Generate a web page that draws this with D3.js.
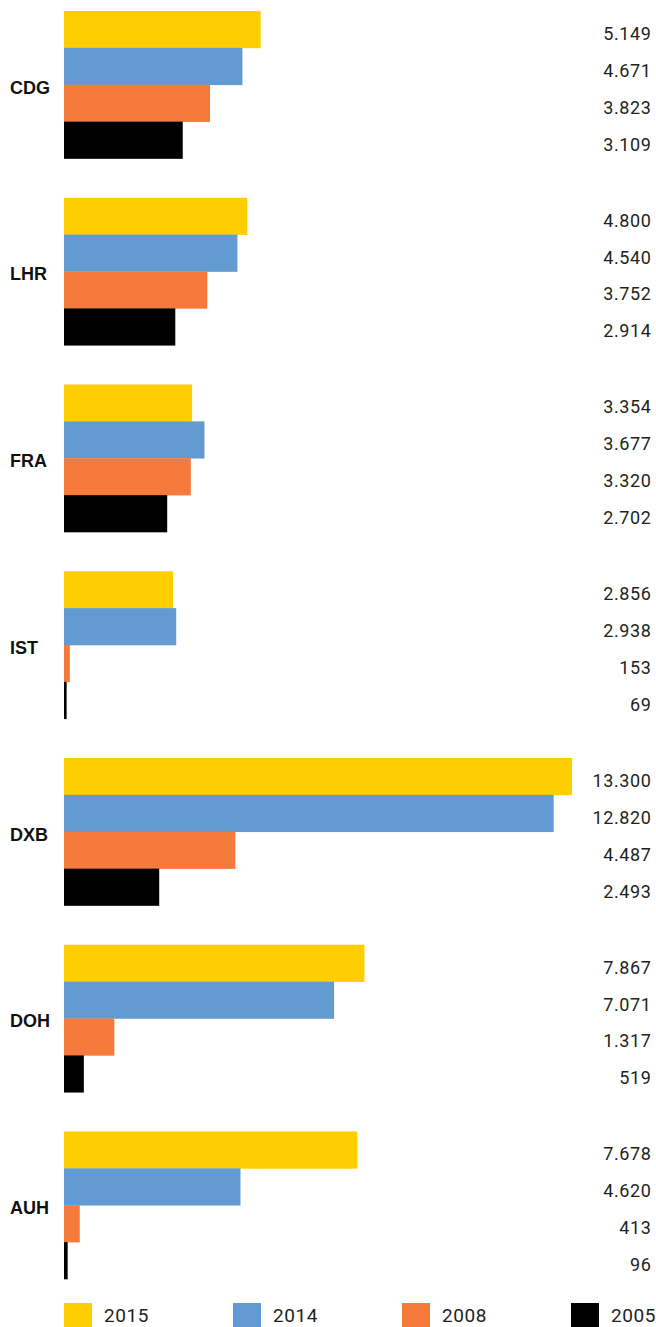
<!DOCTYPE html>
<html>
<head>
<meta charset="utf-8">
<script src="https://cdn.jsdelivr.net/npm/d3@7"></script>
<style>
  html, body { margin: 0; padding: 0; background: #fff; }
  svg { display: block; }
</style>
</head>
<body>
<svg id="chart" width="656" height="1327"></svg>
<script>
const airports = ["CDG", "LHR", "FRA", "IST", "DXB", "DOH", "AUH"];
const years = ["2015", "2014", "2008", "2005"];
const v2015 = [5149, 4800, 3354, 2856, 13300, 7867, 7678];
const v2014 = [4671, 4540, 3677, 2938, 12820, 7071, 4620];
const v2008 = [3823, 3752, 3320, 153, 4487, 1317, 413];
const v2005 = [3109, 2914, 2702, 69, 2493, 519, 96];
const colors = ["#FFCE00", "#619BD1", "#F57B3D", "#000000"];

const seriesValues = [v2015, v2014, v2008, v2005];
const rows = airports.map((a, i) => ({
  airport: a,
  values: years.map((y, j) => ({ year: y, value: seriesValues[j][i] }))
}));

const svg = d3.select("#chart");
const fmt = d3.formatLocale({ decimal: ",", thousands: ".", grouping: [3], currency: ["", ""] }).format(",d");

const x = d3.scaleLinear().domain([0, 13300]).range([64, 572]);
const y0 = d3.scaleBand().domain(airports).range([11, 1279]).paddingInner(0.21).paddingOuter(0);
const y1 = d3.scaleBand().domain(years).range([0, y0.bandwidth()]).padding(0);
const color = d3.scaleOrdinal().domain(years).range(colors);

const g = svg.selectAll("g.group").data(rows).join("g")
  .attr("class", "group")
  .attr("transform", d => `translate(0,${y0(d.airport)})`);

g.selectAll("rect").data(d => d.values).join("rect")
  .attr("x", x(0))
  .attr("y", d => y1(d.year))
  .attr("width", d => x(d.value) - x(0))
  .attr("height", y1.bandwidth() + 0.3)
  .attr("fill", d => color(d.year));

g.selectAll("text.val").data(d => d.values).join("text")
  .attr("class", "val")
  .attr("x", 651.5)
  .attr("y", d => y1(d.year) + y1.bandwidth() / 2 + 4)
  .attr("text-anchor", "end")
  .attr("dominant-baseline", "central")
  .attr("font-family", "Roboto, 'Noto Sans', sans-serif")
  .attr("font-size", 18)
  .attr("letter-spacing", 0.6)
  .attr("fill", "#231F20")
  .text(d => fmt(d.value));

g.append("text")
  .attr("x", 10)
  .attr("y", y1("2008") + 3)
  .attr("dominant-baseline", "central")
  .attr("font-family", "'Liberation Sans', Arial, sans-serif")
  .attr("font-weight", "bold")
  .attr("font-size", 18)
  .attr("fill", "#111")
  .text(d => d.airport);

const legendX = d3.scalePoint().domain(years).range([64, 571]);
const lg = svg.selectAll("g.legend").data(years).join("g")
  .attr("class", "legend")
  .attr("transform", d => `translate(${legendX(d)},1303)`);
lg.append("rect").attr("width", 28).attr("height", 24).attr("fill", d => color(d));
lg.append("text")
  .attr("x", 40)
  .attr("y", 12)
  .attr("dominant-baseline", "central")
  .attr("font-family", "Roboto, 'Noto Sans', sans-serif")
  .attr("font-size", 19)
  .attr("letter-spacing", 0.6)
  .attr("fill", "#231F20")
  .text(d => d);
</script>
</body>
</html>
